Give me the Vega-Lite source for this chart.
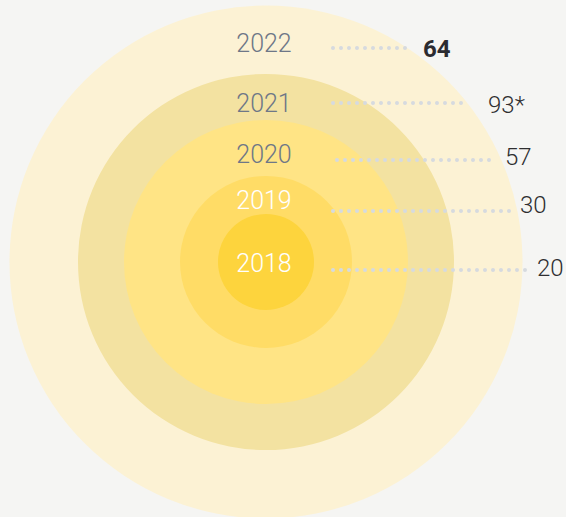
{
  "$schema": "https://vega.github.io/schema/vega-lite/v6.json",
  "width": 566,
  "height": 517,
  "autosize": {"type": "fit", "contains": "padding"},
  "padding": 0,
  "background": "#F5F5F3",
  "view": {"stroke": null},
  "data": {
    "values": [
      {"year": 2022, "value": "64"},
      {"year": 2021, "value": "93*"},
      {"year": 2020, "value": "57"},
      {"year": 2019, "value": "30"},
      {"year": 2018, "value": "20"}
    ]
  },
  "layer": [
    {
      "mark": {"type": "point", "shape": "circle", "filled": true, "opacity": 1, "strokeWidth": 0},
      "encoding": {
        "x": {"datum": 0, "type": "quantitative", "scale": {"domain": [-266, 300]}, "axis": null},
        "y": {"datum": 0, "type": "quantitative", "scale": {"domain": [-253, 264]}, "axis": null},
        "size": {
          "field": "year", "type": "quantitative", "legend": null,
          "scale": {"zero": false, "domain": [2018, 2019, 2020, 2021, 2022], "range": [9216, 29584, 80656, 141376, 263169]}
        },
        "color": {
          "field": "year", "type": "nominal", "legend": null,
          "scale": {"domain": [2018, 2019, 2020, 2021, 2022], "range": ["#FDD43D", "#FFDC66", "#FFE485", "#F3E2A1", "#FCF2D4"]}
        },
        "order": {"field": "year", "sort": "descending"}
      }
    },
    {
      "mark": {"type": "text", "font": "Roboto", "fontWeight": 300, "fontSize": 25, "align": "center", "baseline": "alphabetic"},
      "encoding": {
        "x": {"datum": 0, "type": "quantitative", "scale": {"domain": [-264, 302]}, "axis": null},
        "y": {"field": "year", "type": "quantitative", "axis": null,
              "scale": {"zero": false, "domain": [2018, 2019, 2020, 2021, 2022], "range": [272, 209, 163, 112, 52]}},
        "text": {"field": "year", "type": "nominal"},
        "color": {"condition": {"test": "datum.year <= 2019", "value": "#FFFFFF"}, "value": "#6E7787"}
      }
    },
    {
      "mark": {"type": "rule", "strokeWidth": 4, "strokeCap": "round", "strokeDash": [0.01, 7.99], "color": "#D6DADF"},
      "encoding": {
        "x": {"field": "year", "type": "quantitative", "axis": null,
              "scale": {"zero": false, "domain": [2017, 2018, 2019, 2020, 2021, 2022], "range": [332.5, 525, 509, 489, 461, 405]}},
        "x2": {"datum": 2017},
        "y": {"field": "year", "type": "quantitative", "axis": null,
              "scale": {"zero": false, "domain": [2018, 2019, 2020, 2021, 2022], "range": [270, 211, 160, 103, 48]}}
      }
    },
    {
      "transform": [{"filter": "datum.year != 2022"}],
      "mark": {"type": "text", "font": "Roboto", "fontWeight": 300, "fontSize": 24, "align": "left", "baseline": "alphabetic", "color": "#2E2E30"},
      "encoding": {
        "x": {"field": "year", "type": "quantitative", "axis": null,
              "scale": {"zero": false, "domain": [2018, 2019, 2020, 2021, 2022], "range": [537, 520, 505, 488, 423]}},
        "y": {"field": "year", "type": "quantitative", "axis": null,
              "scale": {"zero": false, "domain": [2018, 2019, 2020, 2021, 2022], "range": [276, 213, 165, 113, 57]}},
        "text": {"field": "value", "type": "nominal"}
      }
    },
    {
      "transform": [{"filter": "datum.year == 2022"}],
      "mark": {"type": "text", "font": "Roboto", "fontWeight": "bold", "fontSize": 24, "align": "left", "baseline": "alphabetic", "color": "#2B2B30"},
      "encoding": {
        "x": {"field": "year", "type": "quantitative", "axis": null,
              "scale": {"zero": false, "domain": [2021, 2022], "range": [488, 423]}},
        "y": {"field": "year", "type": "quantitative", "axis": null,
              "scale": {"zero": false, "domain": [2021, 2022], "range": [113, 57]}},
        "text": {"field": "value", "type": "nominal"}
      }
    }
  ],
  "resolve": {"scale": {"x": "independent", "y": "independent", "color": "independent", "size": "independent"}}
}
